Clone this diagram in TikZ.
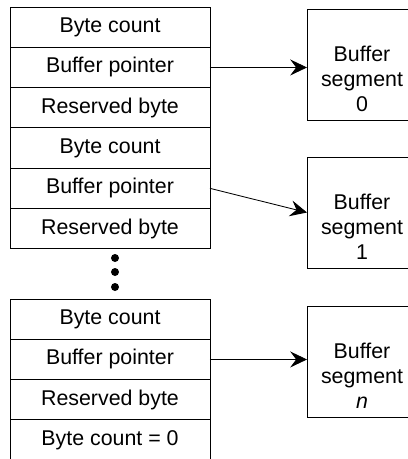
\documentclass[tikz,border=0pt]{standalone}
\usepackage{fontspec}
\setmainfont{Liberation Sans}
\usetikzlibrary{arrows.meta, positioning}

\tikzset{
  field/.style={draw, line width=0.6pt, minimum width=5cm, minimum height=1.0075cm,
    inner sep=0pt, outer sep=0pt, font=\fontsize{15.2}{17.7}\selectfont},
  segbox/.style={draw, line width=0.6pt, minimum width=2.75cm, minimum height=2.775cm, outer sep=0pt},
  segtext/.style={align=center, inner sep=0pt, font=\fontsize{15.2}{17.7}\selectfont},
  ptr/.style={-{Stealth[length=0.42cm, width=0.4cm, inset=0.15cm]}, line width=0.6pt},
}

\begin{document}
\begin{tikzpicture}
        \path[use as bounding box] (0,0) rectangle (10.175,-11.475);

        % first descriptor pair
        \node[field] (bc0) at (2.75,-0.679) {Byte count};
        \node[field, below=0pt of bc0] (ptr0) {Buffer pointer};
        \node[field, below=0pt of ptr0] (res0) {Reserved byte};
        \node[field, below=0pt of res0] (bc1) {Byte count};
        \node[field, below=0pt of bc1] (ptr1) {Buffer pointer};
        \node[field, below=0pt of ptr1] (res1) {Reserved byte};

        \foreach \y in {-6.45,-6.8,-7.175}
            \fill (2.875,\y) circle (0.1);

        % last descriptor
        \node[field] (bcn) at (2.75,-7.979) {Byte count};
        \node[field, below=0pt of bcn] (ptrn) {Buffer pointer};
        \node[field, below=0pt of ptrn] (resn) {Reserved byte};
        \node[field, below=0pt of resn] (bcend) {Byte count = 0};

        % buffer segments
        \node[segbox] (seg0) at (9.05,-1.6125) {};
        \node[segbox] (seg1) at (9.05,-5.3125) {};
        \node[segbox] (segn) at (9.05,-9.0375) {};
        \node[segtext] (seg0txt) at ([yshift=-0.3625cm]seg0.center) {Buffer\\segment\\0};
        \node[segtext] (seg1txt) at ([yshift=-0.3625cm]seg1.center) {Buffer\\segment\\1};
        \node[segtext] (segntxt) at ([yshift=-0.3625cm]segn.center) {Buffer\\segment\\\textit{n}};

        \draw[ptr] (ptr0.east) -- (ptr0.east -| seg0.west);
        \draw[ptr] (ptr1.east) -- (seg1.west);
        \draw[ptr] (ptrn.east) -- (ptrn.east -| segn.west);

    \end{tikzpicture}
\end{document}
